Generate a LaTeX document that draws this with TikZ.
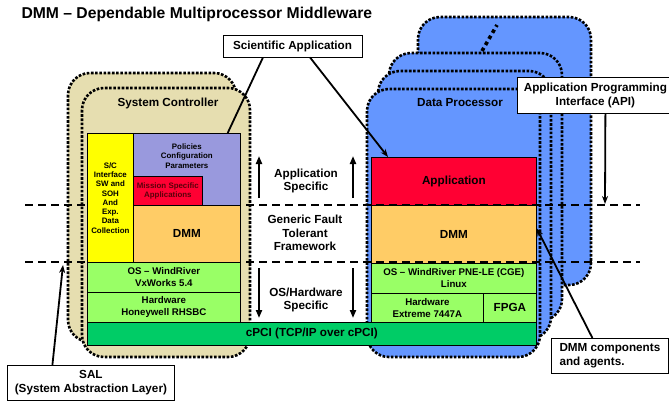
\documentclass[tikz,border=0pt]{standalone}
\usepackage{fontspec}
\setmainfont{Liberation Sans}
\usetikzlibrary{arrows.meta}

\definecolor{tanbg}{RGB}{230,222,176}
\definecolor{dpblue}{RGB}{100,150,255}
\definecolor{scyellow}{RGB}{255,255,0}
\definecolor{polviolet}{RGB}{153,153,221}
\definecolor{appred}{RGB}{255,0,51}
\definecolor{dmmorange}{RGB}{255,204,102}
\definecolor{oslime}{RGB}{153,255,102}
\definecolor{busgreen}{RGB}{0,204,102}
\definecolor{maroon}{RGB}{90,0,10}

\tikzset{
  card/.style={line width=2.6pt, dash pattern=on 2.6pt off 1.6pt, rounded corners=22pt},
  layer/.style={draw=black, line width=0.7pt, anchor=north west, inner sep=0pt, align=center,
    font=\bfseries\fontsize{9.7}{11.8}\selectfont},
  tiny/.style={align=center, font=\bfseries\fontsize{7.9}{9.3}\selectfont},
  big/.style={align=center, font=\bfseries\fontsize{11.7}{13.5}\selectfont},
  note/.style={draw=black, fill=white, line width=0.8pt, big, font=\bfseries\fontsize{11.7}{14}\selectfont},
  tier/.style={line width=2pt, dash pattern=on 8pt off 5pt},
  lead/.style={line width=1.8pt, -{Stealth[length=8pt,width=6pt]}},
  flow/.style={line width=2.2pt, -{Triangle[length=8pt,width=6pt]}},
}

\begin{document}
\begin{tikzpicture}[x=1pt, y=-1pt]
  \useasboundingbox[fill=white] (0,0) rectangle (669,402);

  % stacked cards
  \foreach \dx/\dy in {-14/-15, 0/0}
    \draw[card, fill=tanbg] ({82+\dx},{88+\dy}) rectangle +(168,269);
  \foreach \dx/\dy in {51/-72, 22/-36, 11/-18, 0/0}
    \draw[card, fill=dpblue] ({367+\dx},{89+\dy}) rectangle +(173,268);
  \draw[line width=3.6pt, dash pattern=on 3.6pt off 3.4pt] (482,51) -- (497,25);

  \node[big] (scname) at (168,103) {System Controller};
  \node[big] (dpname) at (460,103) {Data Processor};

  % data processor layers
  \node[layer, fill=appred, minimum width=165pt, minimum height=48pt, big] (app) at (371,157) {Application};
  \node[layer, fill=dmmorange, minimum width=165pt, minimum height=58pt, big] (dmmdp) at (371,205) {DMM};
  \node[layer, fill=oslime, minimum width=165pt, minimum height=30pt] (osdp) at (371,263) {OS – WindRiver PNE-LE (CGE)\\Linux};
  \node[layer, fill=oslime, minimum width=112pt, minimum height=29pt] (hwdp) at (371,293) {Hardware\\Extreme 7447A};
  \node[layer, fill=oslime, minimum width=53pt, minimum height=29pt, big] (fpga) at (483,293) {FPGA};

  % tier boundaries
  \draw[tier] (25,205) -- (640,205);
  \draw[tier] (25,262) -- (640,262);

  % system controller layers
  \node[layer, fill=scyellow, minimum width=46pt, minimum height=129pt, tiny] (scif) at (87,133)
    {S/C\\Interface\\SW and\\SOH\\And\\Exp.\\Data\\Collection};
  \node[layer, fill=polviolet, minimum width=107pt, minimum height=72pt] (policy) at (133,133) {};
  \node[tiny] (policytxt) at ([yshift=-23pt]policy.north) {Policies\\Configuration\\Parameters};
  \node[layer, fill=appred, minimum width=69pt, minimum height=29pt, tiny, text=maroon] (mission) at (133,176)
    {Mission Specific\\Applications};
  \node[layer, fill=dmmorange, minimum width=107pt, minimum height=57pt, big] (dmmsc) at (133,205) {DMM};
  \node[layer, fill=oslime, minimum width=153pt, minimum height=30pt] (ossc) at (87,262) {OS – WindRiver\\VxWorks 5.4};
  \node[layer, fill=oslime, minimum width=153pt, minimum height=30pt] (hwsc) at (87,292) {Hardware\\Honeywell RHSBC};
  \node[layer, fill=busgreen, minimum width=449pt, minimum height=23pt, big] (bus) at (87,322) {cPCI (TCP/IP over cPCI)};

  % middle column
  \node[big] (appspec) at (306,181) {Application\\Specific};
  \node[big] (generic) at (305,233) {Generic Fault\\Tolerant\\Framework};
  \node[big] (oshw) at (306,300) {OS/Hardware\\Specific};
  \foreach \x in {259,353} {
    \draw[flow] (\x,198) -- (\x,156);
    \draw[flow] (\x,268) -- (\x,318);
  }

  % title and callouts
  \node[anchor=west, font=\bfseries\fontsize{15.7}{18}\selectfont] (title) at (18,14)
    {DMM – Dependable Multiprocessor Middleware};
  \node[note, minimum width=139pt, minimum height=22pt] (sciapp) at (292.5,46) {Scientific Application};
  \node[note, anchor=north west, minimum width=156pt, minimum height=36pt] (api) at (517,77)
    {Application Programming\\Interface (API)};
  \node[note, anchor=north west, minimum width=117pt, minimum height=35pt, align=left] (dmmnote) at (551,338)
    {DMM components\\and agents.};
  \node[note, anchor=north west, minimum width=167pt, minimum height=35pt] (sal) at (7,365)
    {SAL\\(System Abstraction Layer)};

  \coordinate (apitip) at (605,204);
  \coordinate (saltip) at (63,265);
  \draw[line width=1.8pt] ([xshift=-29.5pt]sciapp.south) -- ([xshift=-13pt]policy.north east);
  \draw[lead] ([xshift=17.5pt]sciapp.south) -- ([xshift=17pt]app.north west);
  \draw[lead] ([xshift=10pt]api.south) -- (apitip);
  \draw[lead] ([xshift=-17.5pt]dmmnote.north) -- ([yshift=6pt]dmmdp.east);
  \draw[lead] ([xshift=-38.5pt]sal.north) -- (saltip);
\end{tikzpicture}
\end{document}
